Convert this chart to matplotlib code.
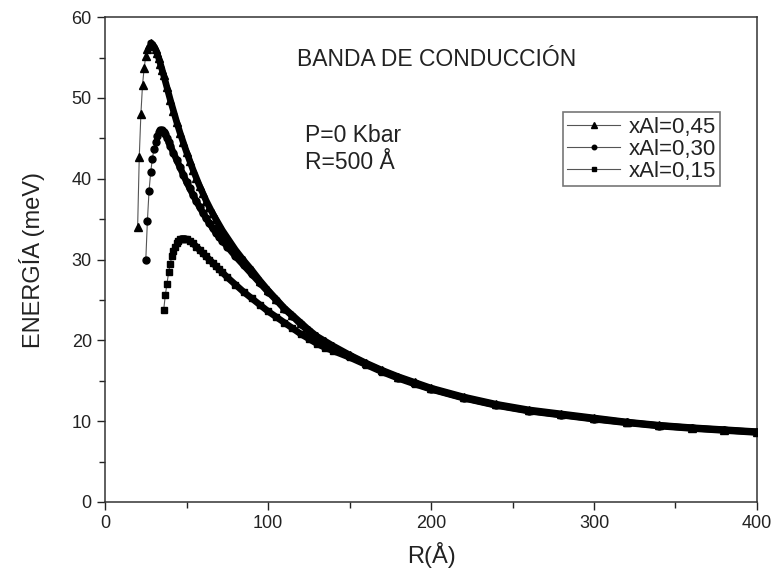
import numpy as np
import matplotlib
matplotlib.use('Agg')
import matplotlib.pyplot as plt
from matplotlib.ticker import MultipleLocator

plt.rcParams['font.family'] = ['Liberation Sans', 'DejaVu Sans']

# xAl = 0.45 (triangulos)
r_045 = [20, 21, 22, 23, 24, 25, 26, 27, 28, 29, 30, 31, 32, 33, 34, 35, 36,
         38, 40, 42, 44, 46, 48, 50, 52, 54, 56, 58, 60, 62, 64, 66, 68, 70, 72,
         75, 80, 85, 90, 95, 100, 105, 110, 115, 120, 125, 130, 135, 140,
         150, 160, 170, 180, 190, 200,
         220, 240, 260, 280, 300, 320, 340, 360, 380, 400]
e_045 = [34.0, 42.7, 48.0, 51.6, 53.7, 55.2, 56.1, 56.6, 56.8, 56.7, 56.4, 56.0, 55.5, 54.9, 54.2, 53.5, 52.8,
         51.3, 49.8, 48.4, 47.0, 45.7, 44.5, 43.3, 42.2, 41.1, 40.1, 39.1, 38.2, 37.3, 36.5, 35.7, 35.0, 34.3, 33.6,
         32.7, 31.2, 29.9, 28.7, 27.4, 26.2, 25.1, 24.0, 23.1, 22.2, 21.3, 20.5, 19.9, 19.3,
         18.2, 17.2, 16.3, 15.5, 14.8, 14.1,
         13.0, 12.1, 11.4, 10.9, 10.4, 9.9, 9.5, 9.2, 8.95, 8.7]

# xAl = 0.30 (circulos)
r_030 = [25, 26, 27, 28, 29, 30, 31, 32, 33, 34, 35, 36, 37, 38, 39, 40,
         42, 44, 46, 48, 50, 52, 54, 56, 58, 60, 62, 64, 66, 68, 70, 72,
         75, 80, 85, 90, 95, 100, 105, 110, 115, 120, 125, 130, 135, 140,
         150, 160, 170, 180, 190, 200,
         220, 240, 260, 280, 300, 320, 340, 360, 380, 400]
e_030 = [29.9, 34.8, 38.5, 40.8, 42.4, 43.7, 44.6, 45.3, 45.8, 46.0, 46.0, 45.8, 45.5, 45.1, 44.6, 44.1,
         43.2, 42.3, 41.4, 40.5, 39.6, 38.8, 38.0, 37.2, 36.5, 35.8, 35.1, 34.5, 33.9, 33.3, 32.8, 32.3,
         31.6, 30.4, 29.3, 28.2, 27.1, 26.0, 25.0, 23.9, 23.0, 22.0, 21.1, 20.3, 19.7, 19.1,
         18.1, 17.1, 16.2, 15.4, 14.7, 14.0,
         12.9, 12.0, 11.3, 10.8, 10.3, 9.85, 9.45, 9.15, 8.9, 8.65]

# xAl = 0.15 (cuadrados)
r_015 = [36, 37, 38, 39, 40, 41, 42, 43, 44, 45, 46, 47, 48, 49, 50,
         52, 54, 56, 58, 60, 62, 64, 66, 68, 70, 72,
         75, 80, 85, 90, 95, 100, 105, 110, 115, 120, 125, 130, 135, 140,
         150, 160, 170, 180, 190, 200,
         220, 240, 260, 280, 300, 320, 340, 360, 380, 400]
e_015 = [23.8, 25.6, 27.0, 28.4, 29.5, 30.4, 31.1, 31.6, 32.0, 32.3, 32.5, 32.6, 32.6, 32.6, 32.5,
         32.3, 32.0, 31.6, 31.2, 30.8, 30.4, 30.0, 29.6, 29.2, 28.8, 28.4,
         27.8, 26.9, 26.0, 25.2, 24.4, 23.6, 22.9, 22.2, 21.5, 20.8, 20.2, 19.6, 19.1, 18.7,
         17.9, 17.0, 16.1, 15.3, 14.6, 13.95,
         12.85, 11.95, 11.25, 10.75, 10.25, 9.8, 9.4, 9.1, 8.85, 8.6]

series = [
    (r_045, e_045, '^', 5.6, 'xAl=0,45'),
    (r_030, e_030, 'o', 5.0, 'xAl=0,30'),
    (r_015, e_015, 's', 4.2, 'xAl=0,15'),
]

fig = plt.figure(figsize=(7.78, 5.80), dpi=100)
ax = fig.add_axes([0.135, 0.1345, 0.838, 0.836])

handles = []
for r, e, mk, ms, lab in series:
    r = np.array(r)
    e = np.array(e)
    h, = ax.plot(r, e, color='#555555', lw=0.8, marker=mk, ms=ms,
                 mfc='black', mec='black', label=lab, zorder=3)
    handles.append(h)
    # puntos muy juntos despues del maximo: se ven como una banda gruesa
    top = int(np.argmax(e))
    ax.plot(r[top:], e[top:], color='black', lw=4.8,
            solid_capstyle='round', solid_joinstyle='round', zorder=4)

ax.set_xlim(0, 400)
ax.set_ylim(0, 60)
ax.xaxis.set_major_locator(MultipleLocator(100))
ax.xaxis.set_minor_locator(MultipleLocator(50))
ax.yaxis.set_major_locator(MultipleLocator(10))
ax.yaxis.set_minor_locator(MultipleLocator(5))
ax.tick_params(which='both', direction='out', top=False, right=False,
               colors='#222222', labelsize=13)
ax.tick_params(which='major', length=6, width=1)
ax.tick_params(which='minor', length=4, width=1)
for sp in ax.spines.values():
    sp.set_color('#333333')
    sp.set_linewidth(1.1)

ax.set_xlabel('R(Å)', fontsize=17, color='#222222', labelpad=7)
ax.set_ylabel('ENERGÍA (meV)', fontsize=17, color='#222222', labelpad=19)

ax.text(117.5, 54.8, 'BANDA DE CONDUCCIÓN', fontsize=16.5, color='#222222',
        va='center', ha='left')
ax.text(122.5, 45.4, 'P=0 Kbar', fontsize=16.5, color='#222222',
        va='center', ha='left')
ax.text(122.5, 42.0, 'R=500 Å', fontsize=16.5, color='#222222',
        va='center', ha='left')

leg = ax.legend(handles=handles, loc='upper left', bbox_to_anchor=(0.702, 0.804),
                borderaxespad=0, fontsize=16, fancybox=False, framealpha=1,
                edgecolor='#777777', handlelength=2.4, handletextpad=0.35,
                labelspacing=0.05, borderpad=0.2, markerscale=0.65)
leg.get_frame().set_linewidth(1.2)
for t in leg.get_texts():
    t.set_color('#222222')

plt.savefig('out.png', dpi=100)
